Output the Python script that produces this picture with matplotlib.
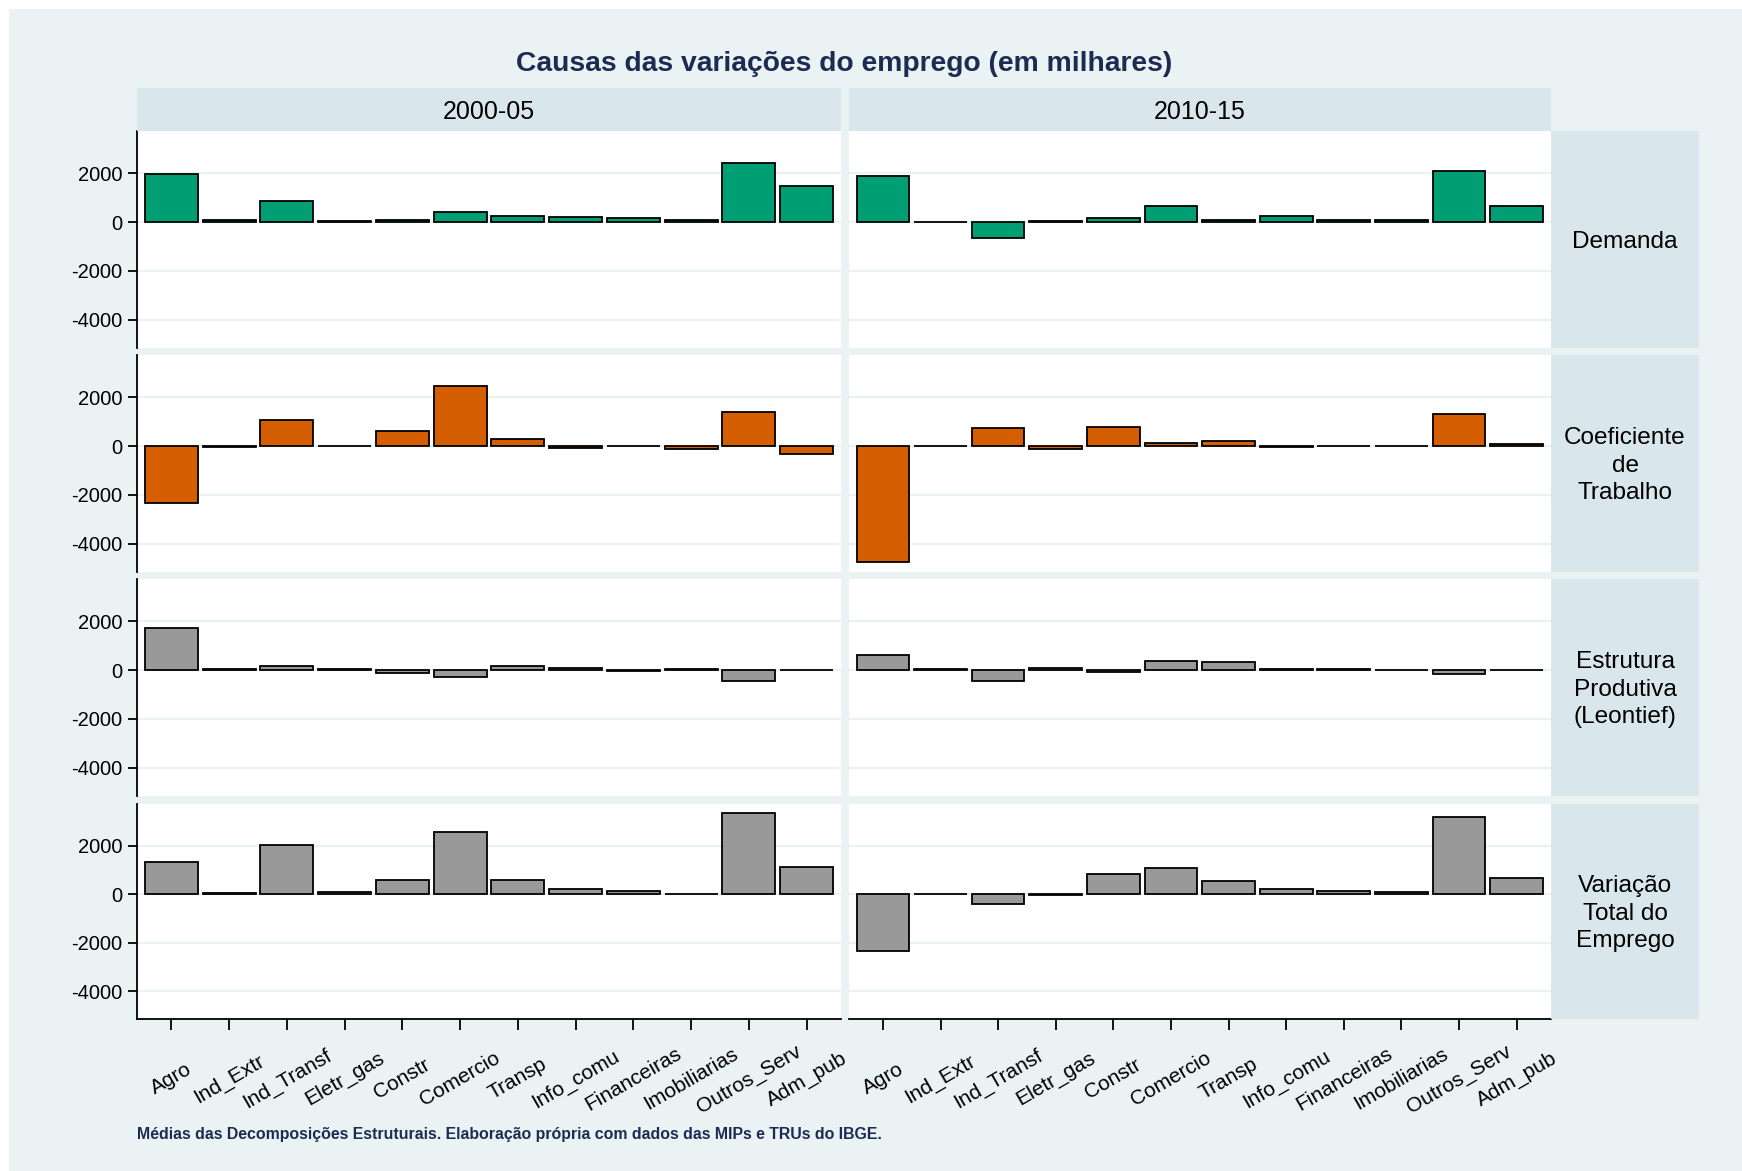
import matplotlib
matplotlib.use("Agg")
import matplotlib.pyplot as plt
from matplotlib.patches import Rectangle

plt.rcParams['font.family'] = ['Liberation Sans', 'DejaVu Sans']

# ---------------- data ----------------
setores = ["Agro", "Ind_Extr", "Ind_Transf", "Eletr_gas", "Constr", "Comercio",
           "Transp", "Info_comu", "Financeiras", "Imobiliarias", "Outros_Serv", "Adm_pub"]
periodos = ["2000-05", "2010-15"]
componentes = ["Demanda", "Coeficiente\nde\nTrabalho", "Estrutura\nProdutiva\n(Leontief)",
               "Variação\nTotal do\nEmprego"]

demanda_2000 = [1980, 70, 870, 30, 80, 410, 240, 200, 160, 80, 2430, 1490]
demanda_2010 = [1870, 20, -640, 50, 150, 640, 90, 230, 100, 80, 2090, 640]
coef_2000 = [-2320, -40, 1050, -15, 600, 2460, 270, -70, -10, -110, 1400, -340]
coef_2010 = [-4770, 10, 720, -120, 790, 120, 190, -30, 20, 20, 1310, 80]
estrut_2000 = [1720, 40, 170, 70, -100, -270, 170, 90, -40, 30, -460, -10]
estrut_2010 = [620, 50, -460, 80, -70, 390, 350, 30, 50, 10, -160, -10]
total_2000 = [1350, 60, 2030, 110, 580, 2580, 610, 230, 120, 15, 3360, 1130]
total_2010 = [-2350, 30, -390, -30, 820, 1080, 570, 230, 150, 80, 3180, 680]

valores = [[demanda_2000, demanda_2010],
           [coef_2000, coef_2010],
           [estrut_2000, estrut_2010],
           [total_2000, total_2010]]
cores = ["#009E73", "#D55E00", "#999999", "#999999"]
yticks = [-4000, -2000, 0, 2000]

titulo = "Causas das variações do emprego (em milhares)"
nota = "Médias das Decomposições Estruturais. Elaboração própria com dados das MIPs e TRUs do IBGE."

# ---------------- layout ----------------
W, H = 1742, 1171
BG = "#EAF2F3"
STRIP = "#D9E6EB"
NAVY = "#1C2B52"

fig = plt.figure(figsize=(W / 100, H / 100), dpi=100, facecolor="white")
fig.patches.append(Rectangle((9 / W, 0), 1 - 9 / W, 1 - 9 / H,
                             transform=fig.transFigure, facecolor=BG, edgecolor="none", zorder=-10))


def rect(x0, y0, x1, y1):
    return [x0 / W, 1 - y1 / H, (x1 - x0) / W, (y1 - y0) / H]


cols = [(137, 841), (848.6, 1551)]
rows = [(131, 348), (355, 572), (579.3, 796), (804, 1019.3)]
xs = list(range(len(setores)))

for r, (y0, y1) in enumerate(rows):
    for c, (x0, x1) in enumerate(cols):
        ax = fig.add_axes(rect(x0, y0, x1, y1))
        ax.set_facecolor("white")
        ax.set_xlim(-0.595, len(setores) - 1 + 0.595)
        ax.set_ylim(-5160, 3730)
        ax.set_yticks(yticks)
        ax.grid(axis="y", color=BG, linewidth=1.6, zorder=0)
        ax.set_axisbelow(True)
        ax.bar(xs, valores[r][c], width=0.915, color=cores[r], edgecolor="black",
               linewidth=1.3, zorder=3)
        for s in ["top", "right"]:
            ax.spines[s].set_visible(False)
        ax.spines["left"].set_visible(c == 0)
        ax.spines["left"].set_linewidth(1.3)
        ax.spines["bottom"].set_visible(r == len(rows) - 1)
        ax.spines["bottom"].set_linewidth(1.3)
        if c == 0:
            ax.tick_params(axis="y", length=6.5, width=1.3, pad=4, labelsize=14.5)
            ax.set_yticklabels([str(v) for v in yticks])
        else:
            ax.tick_params(axis="y", left=False, labelleft=False)
        if r == len(rows) - 1:
            ax.set_xticks(xs)
            ax.set_xticklabels(setores, rotation=30, ha="center", va="center",
                               rotation_mode="anchor", fontsize=15)
            ax.tick_params(axis="x", length=8, width=1.3, pad=35)
        else:
            ax.set_xticks([])

# column strips
for c, (x0, x1) in enumerate(cols):
    sax = fig.add_axes(rect(x0, 88, x1, 131))
    sax.set_facecolor(STRIP)
    sax.set_xticks([]); sax.set_yticks([])
    for s in sax.spines.values():
        s.set_visible(False)
    sax.text(0.5, 0.44, periodos[c], ha="center", va="center", fontsize=18,
             transform=sax.transAxes)

# row strips
for r, (y0, y1) in enumerate(rows):
    sax = fig.add_axes(rect(1551, y0, 1699, y1))
    sax.set_facecolor(STRIP)
    sax.set_xticks([]); sax.set_yticks([])
    for s in sax.spines.values():
        s.set_visible(False)
    sax.text(0.5, 0.49, componentes[r], ha="center", va="center", fontsize=17.6,
             linespacing=1.32, transform=sax.transAxes)

fig.text(844 / W, 1 - 64 / H, titulo, ha="center", va="center", fontsize=20.3,
         fontweight="bold", color=NAVY)
fig.text(137 / W, 1 - 1134 / H, nota, ha="left", va="center", fontsize=11.4,
         fontweight="bold", color=NAVY)

fig.savefig("out.png", dpi=100, facecolor=fig.get_facecolor())
